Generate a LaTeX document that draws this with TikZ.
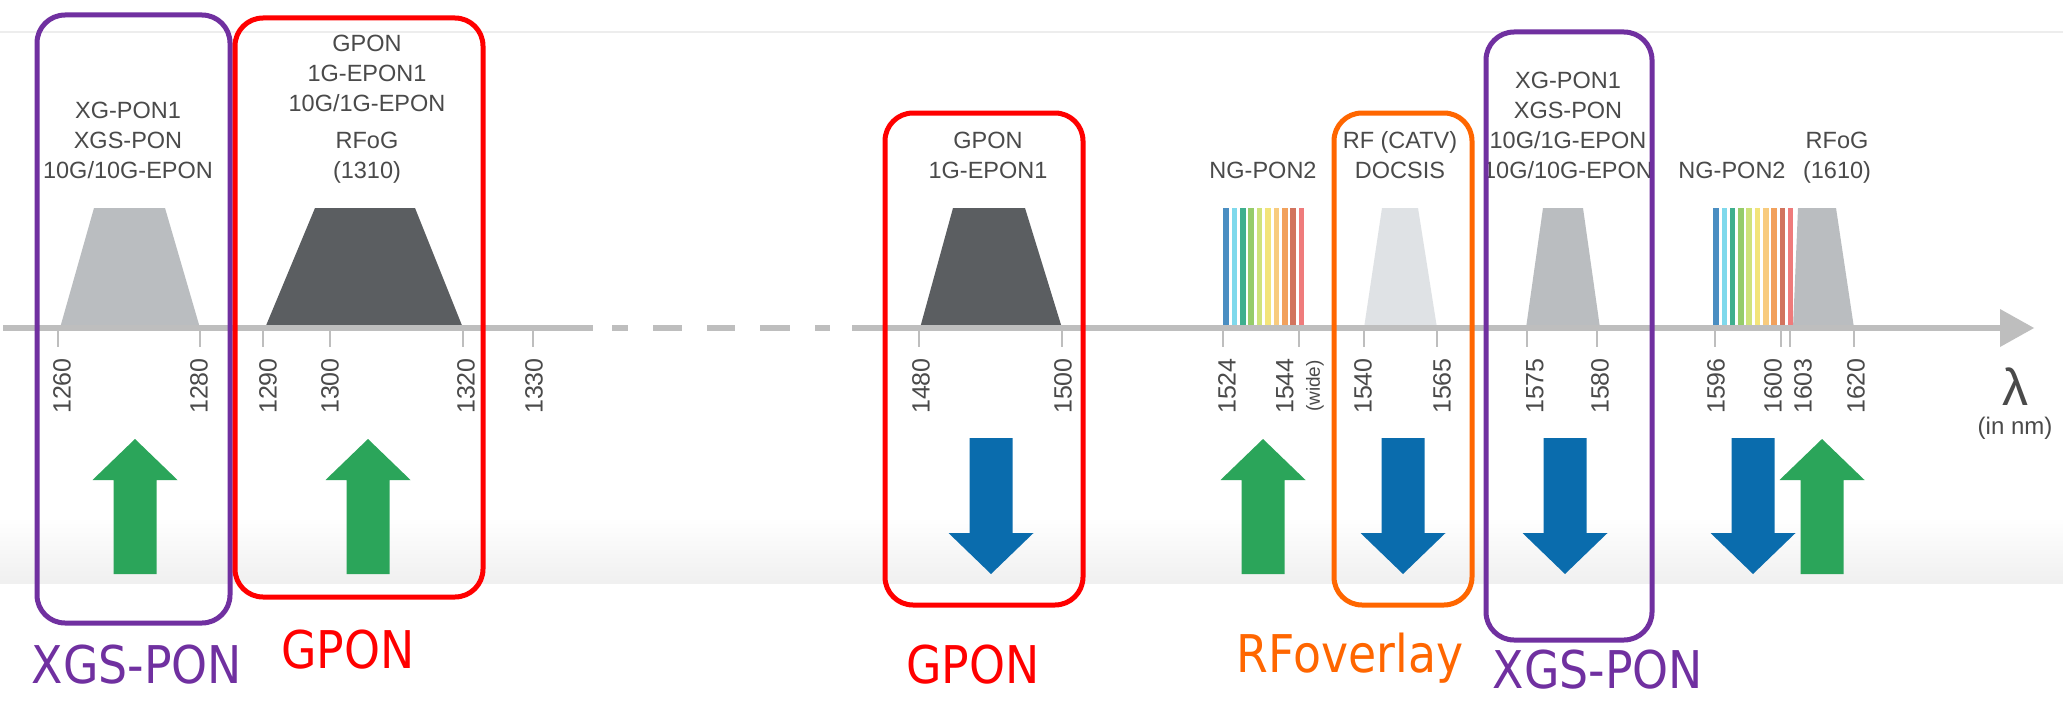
\documentclass[tikz,border=0pt]{standalone}
\usepackage{fontspec}
\setmainfont{Liberation Sans}
\newfontfamily\tagfont[FakeStretch=0.88]{DejaVu Sans}
\usepackage{tikz}
\usetikzlibrary{calc}
\definecolor{axisgray}{HTML}{BEBEBE}
\definecolor{textgray}{HTML}{4A4A4A}
\definecolor{darkband}{HTML}{5B5E61}
\definecolor{lightband}{HTML}{BABDC0}
\definecolor{paleband}{HTML}{DFE2E5}
\definecolor{upgreen}{HTML}{2BA55A}
\definecolor{downblue}{HTML}{0A6CAD}
\definecolor{xgspurple}{HTML}{7030A0}
\definecolor{gponred}{HTML}{FF0000}
\definecolor{rforange}{HTML}{FF6600}
\definecolor{ch1}{HTML}{4A8EC2}
\definecolor{ch2}{HTML}{7FD9EC}
\definecolor{ch3}{HTML}{3FAF8E}
\definecolor{ch4}{HTML}{96CC6A}
\definecolor{ch5}{HTML}{CFE27A}
\definecolor{ch6}{HTML}{F3E47A}
\definecolor{ch7}{HTML}{F8CB7E}
\definecolor{ch8}{HTML}{F2A15C}
\definecolor{ch9}{HTML}{D2745E}
\definecolor{ch10}{HTML}{EF7B7B}

\begin{document}
\begin{tikzpicture}[x=1pt,y=-1pt,
  stdtext/.style={text=textgray,align=center,inner sep=0pt,anchor=north,
    font=\fontsize{23.5}{30}\selectfont},
  ticklabel/.style={text=textgray,rotate=90,anchor=east,inner sep=0pt,
    font=\fontsize{25}{25}\selectfont},
  groupbox/.style={line width=5pt,rounded corners=28pt},
  grouptag/.style={anchor=base,inner sep=0pt,font=\tagfont\fontsize{52}{52}\selectfont}]
  % background
  \fill[white] (0,0) rectangle (2063,701);
  \useasboundingbox (0,0) rectangle (2063,701);
  \draw[black!7,line width=1.5pt] (0,32) -- (2063,32);
  \shade[top color=white,bottom color=black!6] (0,517) rectangle (2063,583);
  % bands
  \fill[lightband] (60,328) -- (94,208) -- (165,208) -- (200,328) -- cycle;
  \fill[darkband] (265,328) -- (315,208) -- (415,208) -- (463,328) -- cycle;
  \fill[darkband] (920,328) -- (953,208) -- (1025,208) -- (1062,328) -- cycle;
  \fill[paleband] (1364,328) -- (1382,208) -- (1418,208) -- (1437,328) -- cycle;
  \fill[lightband] (1526,328) -- (1543,208) -- (1583,208) -- (1600,328) -- cycle;
  \fill[lightband] (1793,328) -- (1798,208) -- (1836,208) -- (1854,328) -- cycle;
  % NG-PON2 channel combs
  \foreach \col [count=\i from 0] in {ch1,ch2,ch3,ch4,ch5,ch6,ch7,ch8,ch9,ch10} {
    \draw[\col,line width=5.5pt] (1226+8.4*\i,208) -- (1226+8.4*\i,328);
    \draw[\col,line width=5.5pt] (1716+8.3*\i,208) -- (1716+8.3*\i,328);
  }
  % axis
  \draw[axisgray,line width=6pt] (3,328) -- (593,328);
  \foreach \a/\b in {612/628,653/682,707/735,760/790,815/830}
    \draw[axisgray,line width=6pt] (\a,328) -- (\b,328);
  \draw[axisgray,line width=6pt] (852,328) -- (2002,328);
  \fill[axisgray] (2000,309) -- (2034,328) -- (2000,347) -- cycle;
  \foreach \t in {58,200,263,330,463,533,919,1062,1223,1299,1364,1437,1527,1597,1715,1781,1790,1854}
    \draw[axisgray,line width=2pt] (\t,331) -- (\t,347);
  \foreach \x/\v in {62/1260,199/1280,268/1290,330/1300,466/1320,534/1330,921/1480,1063/1500,
      1227/1524,1285/1544,1363/1540,1442/1565,1535/1575,1600/1580,1716/1596,1773/1600,1803/1603,1856/1620}
    \node[ticklabel] (tick\v) at (\x,358) {\v};
  \node[ticklabel,font=\fontsize{19}{19}\selectfont] (tickwide) at (1315,360) {(wide)};
  \node[text=textgray,inner sep=0pt,anchor=base,font=\fontsize{52}{52}\selectfont]
    (lambda) at (2015,405) {λ};
  \node[text=textgray,inner sep=0pt,font=\fontsize{24}{24}\selectfont]
    (unit) at (2015,428) {(in nm)};
  % up / down arrows
  \foreach \c in {135,368,1263,1822}
    \fill[upgreen] (\c-21.5,574) -- (\c-21.5,480) -- (\c-42.5,480) -- (\c,439)
      -- (\c+42.5,480) -- (\c+21.5,480) -- (\c+21.5,574) -- cycle;
  \foreach \c in {991,1403,1565,1753}
    \fill[downblue] (\c-21.5,438) -- (\c+21.5,438) -- (\c+21.5,533) -- (\c+42.5,533)
      -- (\c,574) -- (\c-42.5,533) -- (\c-21.5,533) -- cycle;
  % band names
  \node[stdtext] (xgpona) at (128,101.5) {XG-PON1\\XGS-PON\\10G/10G-EPON};
  \node[stdtext] (gpona) at (367,34.5) {GPON\\1G-EPON1\\10G/1G-EPON};
  \node[stdtext] (rfoga) at (367,131.5) {RFoG\\(1310)};
  \node[stdtext] (gponb) at (988,131.5) {GPON\\1G-EPON1};
  \node[stdtext] (ngpona) at (1263,161.5) {NG-PON2};
  \node[stdtext] (catv) at (1400,131.5) {RF (CATV)\\DOCSIS};
  \node[stdtext] (xgponb) at (1568,71.5) {XG-PON1\\XGS-PON\\10G/1G-EPON\\10G/10G-EPON};
  \node[stdtext] (ngponb) at (1732,161.5) {NG-PON2};
  \node[stdtext] (rfogb) at (1837,131.5) {RFoG\\(1610)};
  % groups
  \draw[groupbox,xgspurple] (37,15) rectangle (230,623);
  \draw[groupbox,gponred] (235,18) rectangle (483,597);
  \draw[groupbox,gponred] (885,113) rectangle (1083,605);
  \draw[groupbox,rforange] (1334,113) rectangle (1472,605);
  \draw[groupbox,xgspurple] (1486,32) rectangle (1652,640);
  \node[grouptag,text=xgspurple] (tagxgsa) at (137,683) {XGS-PON};
  \node[grouptag,text=gponred] (taggpona) at (348,668) {GPON};
  \node[grouptag,text=gponred] (taggponb) at (973,683) {GPON};
  \node[grouptag,text=rforange] (tagrf) at (1350,672) {RFoverlay};
  \node[grouptag,text=xgspurple] (tagxgsb) at (1598,688) {XGS-PON};
\end{tikzpicture}
\end{document}
